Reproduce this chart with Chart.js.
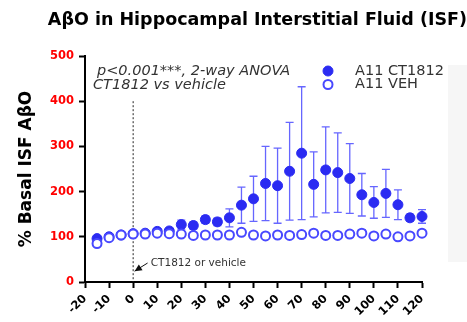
<!DOCTYPE html>
<html>
<head>
<meta charset="utf-8">
<script src="https://cdn.jsdelivr.net/npm/chart.js@4/dist/chart.umd.min.js"></script>
<style>
  html, body { margin: 0; padding: 0; background: #fff; }
</style>
</head>
<body>
<canvas id="chart" width="467" height="322"></canvas>
<script>
// Time after dosing (min)
const times = [-15, -10, -5, 0, 5, 10, 15, 20, 25, 30, 35, 40, 45, 50, 55, 60, 65, 70, 75, 80, 85, 90, 95, 100, 105, 110, 115, 120];
// % basal ISF AbetaO, mean and error
const ctMean = [96, 100, 104, 107, 108, 112, 113, 127, 125, 138, 133, 142, 170, 184, 218, 213, 245, 285, 216, 248, 242, 229, 193, 176, 196, 171, 142, 145];
const ctErr = [5, 5, 5, 5, 5, 6, 6, 10, 8, 8, 8, 20, 40, 50, 82, 83, 108, 147, 72, 95, 88, 77, 47, 35, 53, 33, 8, 15];
const vehMean = [85, 98, 104, 106, 106, 108, 107, 106, 103, 104, 104, 104, 110, 104, 102, 104, 103, 105, 108, 103, 103, 106, 108, 102, 106, 100, 102, 108];
const vehErr = [6, 5, 4, 5, 5, 6, 6, 5, 5, 5, 5, 5, 6, 5, 5, 6, 6, 7, 6, 6, 6, 7, 7, 6, 7, 5, 5, 5];

const xTickMin = -20, xTickMax = 120, xStep = 10;
const yTickMin = 0, yTickMax = 500, yStep = 100;

// dosing marker
const doseTime = 0;
const doseLineTop = 400;

const FONT = "'DejaVu Sans', sans-serif";
const BLUE = "#2b2bf2";
const BLUE_OPEN = "#4848ff";
const ERR_COLOR = "#6666ff";

// error bars drawn under the points
const errorBars = {
  id: "errorBars",
  beforeDatasetsDraw(chart) {
    const { ctx, scales: { x, y } } = chart;
    ctx.save();
    ctx.strokeStyle = ERR_COLOR;
    ctx.lineWidth = 1.3;
    chart.data.datasets.forEach(ds => {
      ds.data.forEach((p, i) => {
        const e = ds.err[i];
        const px = x.getPixelForValue(p.x);
        const top = y.getPixelForValue(p.y + e);
        const bot = y.getPixelForValue(p.y - e);
        ctx.beginPath();
        ctx.moveTo(px, top); ctx.lineTo(px, bot);
        ctx.moveTo(px - 4, top); ctx.lineTo(px + 4, top);
        ctx.moveTo(px - 4, bot); ctx.lineTo(px + 4, bot);
        ctx.stroke();
      });
    });
    ctx.restore();
  }
};

// dotted dosing line, arrow and notes
const annotations = {
  id: "annotations",
  beforeDraw(chart) {
    const ctx = chart.ctx;
    ctx.save();
    ctx.fillStyle = "#f6f6f6";
    ctx.fillRect(448, 65, 19, 197);
    ctx.restore();
  },
  beforeDatasetsDraw(chart) {
    const { ctx, scales: { x, y } } = chart;
    ctx.save();
    const lx = x.getPixelForValue(doseTime);
    ctx.strokeStyle = "#222";
    ctx.lineWidth = 1;
    ctx.setLineDash([2, 2]);
    ctx.beginPath();
    ctx.moveTo(lx, y.getPixelForValue(doseLineTop));
    ctx.lineTo(lx, y.getPixelForValue(0));
    ctx.stroke();
    ctx.setLineDash([]);

    // arrow pointing at the dosing line
    const tailX = x.getPixelForValue(6), tailY = y.getPixelForValue(42);
    const tipX = x.getPixelForValue(0.6), tipY = y.getPixelForValue(24);
    const ang = Math.atan2(tipY - tailY, tipX - tailX);
    ctx.strokeStyle = "#111";
    ctx.beginPath();
    ctx.moveTo(tailX, tailY);
    ctx.lineTo(tipX, tipY);
    ctx.stroke();
    ctx.fillStyle = "#111";
    ctx.beginPath();
    ctx.moveTo(tipX, tipY);
    ctx.lineTo(tipX - 8 * Math.cos(ang - 0.45), tipY - 8 * Math.sin(ang - 0.45));
    ctx.lineTo(tipX - 8 * Math.cos(ang + 0.45), tipY - 8 * Math.sin(ang + 0.45));
    ctx.closePath();
    ctx.fill();

    ctx.fillStyle = "#333";
    ctx.font = "10.5px " + FONT;
    ctx.textBaseline = "middle";
    ctx.fillText("CT1812 or vehicle", x.getPixelForValue(7.3), y.getPixelForValue(42));
    ctx.restore();
  },
  afterDraw(chart) {
    const ctx = chart.ctx;
    ctx.save();
    ctx.textBaseline = "middle";
    ctx.fillStyle = "#333";
    ctx.font = "italic 14.5px " + FONT;
    ctx.fillText("p<0.001***, 2-way ANOVA", 97, 71);
    ctx.fillText("CT1812 vs vehicle", 93, 85);

    // legend
    const items = [chart.data.datasets[1], chart.data.datasets[0]];
    ctx.font = "14.5px " + FONT;
    items.forEach((ds, i) => {
      const cy = 71 + i * 13.5;
      ctx.beginPath();
      ctx.arc(328, cy, ds.pointRadius, 0, Math.PI * 2);
      ctx.fillStyle = ds.backgroundColor;
      ctx.fill();
      ctx.lineWidth = ds.pointBorderWidth;
      ctx.strokeStyle = ds.borderColor;
      ctx.stroke();
      ctx.fillStyle = "#333";
      ctx.fillText(ds.label, 355, cy);
    });
    ctx.restore();
  }
};

const toPoints = (vals) => times.map((t, i) => ({ x: t, y: vals[i] }));

new Chart(document.getElementById("chart"), {
  type: "scatter",
  data: {
    datasets: [
      {
        label: "A11 VEH",
        data: toPoints(vehMean),
        err: vehErr,
        clip: false,
        pointRadius: 4.5,
        pointBorderWidth: 2,
        borderColor: BLUE_OPEN,
        backgroundColor: "#ffffff"
      },
      {
        label: "A11 CT1812",
        data: toPoints(ctMean),
        err: ctErr,
        clip: false,
        pointRadius: 5,
        pointBorderWidth: 1,
        borderColor: BLUE,
        backgroundColor: BLUE
      }
    ]
  },
  options: {
    responsive: false,
    animation: false,
    layout: { padding: 0 },
    plugins: {
      legend: { display: false },
      tooltip: { enabled: false },
      title: {
        display: true,
        text: "AβO in Hippocampal Interstitial Fluid (ISF)",
        align: "end",
        color: "#000",
        font: { family: FONT, size: 17.5, weight: "bold" },
        padding: { top: 10, bottom: 25 }
      }
    },
    scales: {
      x: {
        type: "linear",
        min: xTickMin,
        max: xTickMax,
        ticks: {
          stepSize: xStep,
          autoSkip: false,
          minRotation: 45,
          maxRotation: 45,
          padding: 4,
          color: "#000",
          font: { family: FONT, size: 11.5, weight: "bold" }
        },
        grid: { drawOnChartArea: false, tickLength: 6, tickWidth: 2, color: "#000" },
        border: { color: "#000", width: 2 },
        afterFit(s) { s.height = 40; s.paddingRight = 45; s.paddingLeft = 0; }
      },
      y: {
        min: yTickMin,
        max: yTickMax,
        ticks: {
          stepSize: yStep,
          padding: 5,
          color: "#ff0000",
          font: { family: FONT, size: 11.5, weight: "bold" }
        },
        grid: { drawOnChartArea: false, tickLength: 6, tickWidth: 2, color: "#000" },
        border: { color: "#000", width: 2 },
        title: {
          display: true,
          text: "% Basal ISF AβO",
          color: "#000",
          font: { family: FONT, size: 17, weight: "bold" },
          padding: { top: 16, bottom: 0 }
        },
        afterFit(s) { s.width = 85; }
      }
    }
  },
  plugins: [errorBars, annotations]
});
</script>
</body>
</html>
